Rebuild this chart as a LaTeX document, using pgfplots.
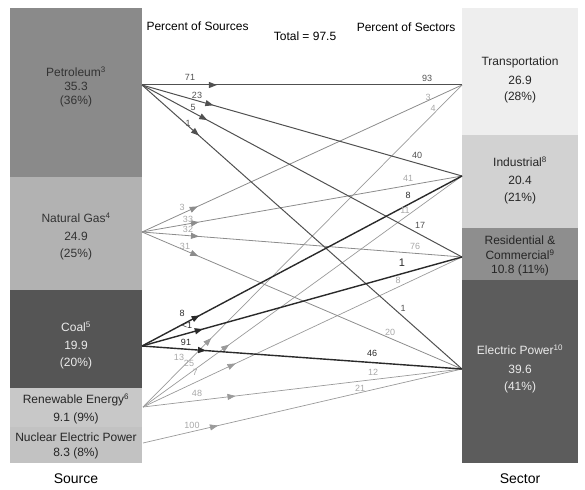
\documentclass[border=0pt]{standalone}
\usepackage{fontspec}
\setmainfont{Liberation Sans}
\usepackage{pgfplots}
\pgfplotsset{compat=1.18}
\usetikzlibrary{decorations.markings,arrows.meta}
\definecolor{cPet}{HTML}{8A8A8A}
\definecolor{cGas}{HTML}{B2B2B2}
\definecolor{cCoal}{HTML}{555555}
\definecolor{cRen}{HTML}{C8C8C8}
\definecolor{cNuc}{HTML}{C2C2C2}
\definecolor{cTra}{HTML}{EEEEEE}
\definecolor{cInd}{HTML}{D2D2D2}
\definecolor{cRes}{HTML}{8E8E8E}
\definecolor{cEle}{HTML}{5C5C5C}
\definecolor{lPet}{HTML}{505050}
\definecolor{lGas}{HTML}{8C8C8C}
\definecolor{lCoal}{HTML}{2A2A2A}
\definecolor{lRen}{HTML}{9A9A9A}
\definecolor{tGas}{HTML}{A8A8A8}
\pgfplotsset{ar/.style={postaction={decorate,decoration={markings,mark=at position #1 with {\arrow{Triangle[length=8pt,width=6pt]}}}}}}
\begin{document}
\begin{tikzpicture}
\begin{axis}[scale only axis, width=585pt, height=489pt,
  xmin=0, xmax=585, ymin=0, ymax=489, y dir=reverse,
  axis line style={draw=none}, ticks=none, clip=false]
% source boxes
\addplot[draw=none, fill=cPet] coordinates {(10,8) (142,8) (142,177) (10,177)};
\addplot[draw=none, fill=cGas] coordinates {(10,177) (142,177) (142,290) (10,290)};
\addplot[draw=none, fill=cCoal] coordinates {(10,290) (142,290) (142,388) (10,388)};
\addplot[draw=none, fill=cRen] coordinates {(10,388) (142,388) (142,427) (10,427)};
\addplot[draw=none, fill=cNuc] coordinates {(10,427) (142,427) (142,463) (10,463)};
% sector boxes
\addplot[draw=none, fill=cTra] coordinates {(462,8) (578,8) (578,135) (462,135)};
\addplot[draw=none, fill=cInd] coordinates {(462,135) (578,135) (578,228) (462,228)};
\addplot[draw=none, fill=cRes] coordinates {(462,228) (578,228) (578,280) (462,280)};
\addplot[draw=none, fill=cEle] coordinates {(462,280) (578,280) (578,463) (462,463)};
% flows: renewable
\addplot[lRen, line width=0.7pt, ar=0.214] coordinates {(143,407) (462,85)};
\addplot[lRen, line width=0.7pt, ar=0.27] coordinates {(143,407) (462,176)};
\addplot[lRen, line width=0.7pt, ar=0.29] coordinates {(143,407) (462,257)};
\addplot[lRen, line width=0.7pt, ar=0.29] coordinates {(143,407) (462,369)};
% nuclear
\addplot[lRen, line width=0.7pt, ar=0.235] coordinates {(143,443) (462,369)};
% natural gas
\addplot[lGas, line width=0.8pt, ar=0.174] coordinates {(142,232) (462,85)};
\addplot[lGas, line width=0.8pt, ar=0.178] coordinates {(142,232) (462,176)};
\addplot[lGas, line width=0.8pt, ar=0.178] coordinates {(142,232) (462,257)};
\addplot[lGas, line width=0.8pt, ar=0.176] coordinates {(142,232) (462,369)};
% petroleum
\addplot[lPet, line width=1pt, ar=0.234] coordinates {(142,85) (462,85)};
\addplot[lPet, line width=1pt, ar=0.223] coordinates {(142,85) (462,176)};
\addplot[lPet, line width=1pt, ar=0.204] coordinates {(142,85) (462,257)};
\addplot[lPet, line width=1pt, ar=0.178] coordinates {(142,85) (462,369)};
% coal
\addplot[lCoal, line width=1.4pt, ar=0.18] coordinates {(142,346) (462,176)};
\addplot[lCoal, line width=1.4pt, ar=0.19] coordinates {(142,346) (462,257)};
\addplot[lCoal, line width=1.4pt, ar=0.2] coordinates {(142,346) (462,369)};
% titles
\node[font=\fontsize{12}{14}\selectfont, anchor=west] at (axis cs:143,26) {Percent of Sources};
\node[font=\fontsize{12}{14}\selectfont] at (axis cs:305,36) {Total = 97.5};
\node[font=\fontsize{12}{14}\selectfont, anchor=east] at (axis cs:459,27) {Percent of Sectors};
\node[font=\fontsize{14}{16}\selectfont] at (axis cs:76,479) {Source};
\node[font=\fontsize{14}{16}\selectfont] at (axis cs:520,479) {Sector};
% source box texts
\begin{scope}[every node/.style={font=\fontsize{12}{14}\selectfont}]
\node[text=black!80] at (axis cs:76,72) {Petroleum\textsuperscript{3}};
\node[text=black!80] at (axis cs:76,86) {35.3};
\node[text=black!80] at (axis cs:76,101) {(36\%)};
\node[text=black!80] at (axis cs:76,218) {Natural Gas\textsuperscript{4}};
\node[text=black!80] at (axis cs:76,236) {24.9};
\node[text=black!80] at (axis cs:76,254) {(25\%)};
\node[text=white!92!black] at (axis cs:76,327) {Coal\textsuperscript{5}};
\node[text=white!92!black] at (axis cs:76,345) {19.9};
\node[text=white!92!black] at (axis cs:76,363) {(20\%)};
\node[text=black!85] at (axis cs:76,400) {Renewable Energy\textsuperscript{6}};
\node[text=black!85] at (axis cs:76,418) {9.1 (9\%)};
\node[text=black!85] at (axis cs:76,437) {Nuclear Electric Power};
\node[text=black!85] at (axis cs:76,453) {8.3 (8\%)};
% sector box texts
\node[text=black!85] at (axis cs:520,62) {Transportation};
\node[text=black!85] at (axis cs:520,80) {26.9};
\node[text=black!85] at (axis cs:520,97) {(28\%)};
\node[text=black!85] at (axis cs:520,162) {Industrial\textsuperscript{8}};
\node[text=black!85] at (axis cs:520,180) {20.4};
\node[text=black!85] at (axis cs:520,198) {(21\%)};
\node[text=black!85] at (axis cs:520,240) {Residential \&};
\node[text=black!85] at (axis cs:520,255) {Commercial\textsuperscript{9}};
\node[text=black!85] at (axis cs:520,270) {10.8 (11\%)};
\node[text=white!92!black] at (axis cs:520,350) {Electric Power\textsuperscript{10}};
\node[text=white!92!black] at (axis cs:520,369) {39.6};
\node[text=white!92!black] at (axis cs:520,387) {(41\%)};
\end{scope}
% flow labels
\begin{scope}[every node/.style={font=\fontsize{9}{10}\selectfont, inner sep=0pt}]
\node[text=lPet] at (axis cs:190,77) {71};
\node[text=lPet] at (axis cs:197,95) {23};
\node[text=lPet] at (axis cs:193,107) {5};
\node[text=lPet] at (axis cs:188,123) {1};
\node[text=tGas] at (axis cs:182,207) {3};
\node[text=tGas] at (axis cs:188,219) {33};
\node[text=tGas] at (axis cs:188,229) {32};
\node[text=tGas] at (axis cs:185,246) {31};
\node[text=lCoal] at (axis cs:182,313) {8};
\node[text=lCoal] at (axis cs:187,325) {<1};
\node[text=lCoal] at (axis cs:186,342) {91};
\node[text=tGas] at (axis cs:179,357) {13};
\node[text=tGas] at (axis cs:189,363) {25};
\node[text=tGas] at (axis cs:195,372) {7};
\node[text=tGas] at (axis cs:197,393) {48};
\node[text=tGas] at (axis cs:192,425) {100};
\node[text=lPet] at (axis cs:427,78) {93};
\node[text=tGas] at (axis cs:428,97) {3};
\node[text=tGas] at (axis cs:433,108) {4};
\node[text=lPet] at (axis cs:417,155) {40};
\node[text=tGas] at (axis cs:408,178) {41};
\node[text=lCoal] at (axis cs:408,195) {8};
\node[text=tGas] at (axis cs:405,210) {11};
\node[text=lPet] at (axis cs:420,225) {17};
\node[text=tGas] at (axis cs:415,246) {76};
\node[text=lCoal, font=\fontsize{11}{12}\selectfont] at (axis cs:402,263) {1};
\node[text=tGas] at (axis cs:398,280) {8};
\node[text=lPet] at (axis cs:403,308) {1};
\node[text=tGas] at (axis cs:390,332) {20};
\node[text=lCoal] at (axis cs:372,353) {46};
\node[text=tGas] at (axis cs:373,372) {12};
\node[text=tGas] at (axis cs:360,388) {21};
\end{scope}
\end{axis}
\end{tikzpicture}
\end{document}
